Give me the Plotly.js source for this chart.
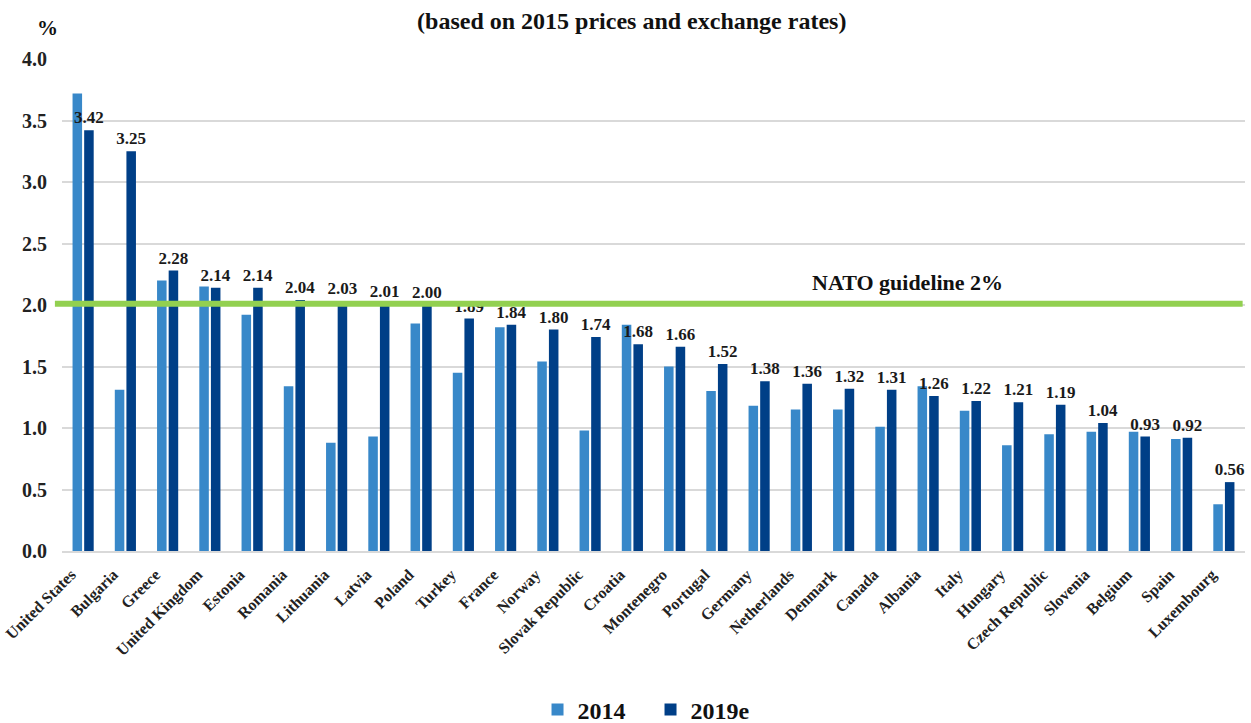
<!DOCTYPE html>
<html>
<head>
<meta charset="utf-8">
<script src="https://cdn.plot.ly/plotly-3.0.1.min.js"></script>
<style>html,body{margin:0;padding:0;background:#fff;}#chart{width:1251px;height:723px;}</style>
</head>
<body>
<div id="chart"></div>
<script>
const countries = ["United States","Bulgaria","Greece","United Kingdom","Estonia","Romania","Lithuania","Latvia","Poland","Turkey","France","Norway","Slovak Republic","Croatia","Montenegro","Portugal","Germany","Netherlands","Denmark","Canada","Albania","Italy","Hungary","Czech Republic","Slovenia","Belgium","Spain","Luxembourg"];
const values2014 = [3.72,1.31,2.20,2.15,1.92,1.34,0.88,0.93,1.85,1.45,1.82,1.54,0.98,1.84,1.50,1.30,1.18,1.15,1.15,1.01,1.34,1.14,0.86,0.95,0.97,0.97,0.91,0.38];
const values2019 = [3.42,3.25,2.28,2.14,2.14,2.04,2.03,2.01,2.00,1.89,1.84,1.80,1.74,1.68,1.66,1.52,1.38,1.36,1.32,1.31,1.26,1.22,1.21,1.19,1.04,0.93,0.92,0.56];
const seriesNames = ["2014","2019e"];
const guideline = 2.0;
const yTicks = [0,0.5,1,1.5,2,2.5,3,3.5,4];

const serif = "Liberation Serif, DejaVu Serif, serif";
const lightBlue = "#3888C9";
const darkBlue = "#003F87";

const traces = [
  {type:"bar", name:seriesNames[0], x:countries, y:values2014, marker:{color:lightBlue}, hoverinfo:"x+y"},
  {type:"bar", name:seriesNames[1], x:countries, y:values2019, marker:{color:darkBlue},
   text: values2019.map(v=>v.toFixed(2)), textposition:"outside", constraintext:"none", cliponaxis:false,
   textfont:{family:serif, size:17, color:"#1a1a1a", weight:"bold"}}
];

const layout = {
  width:1251, height:723,
  margin:{l:62, r:6, t:59, b:172},
  paper_bgcolor:"#fff", plot_bgcolor:"#fff",
  barmode:"group", bargap:0.45, bargroupgap:0.18,
  title:{text:"(based on 2015 prices and exchange rates)", x:0.505, xanchor:"center", y:0.972, yanchor:"middle",
         font:{family:serif, size:24, color:"#111", weight:"bold"}},
  xaxis:{type:"category", tickangle:-45, tickfont:{family:serif, size:16, color:"#222", weight:"bold"},
         showgrid:false, showline:true, linecolor:"#d9d9d9", linewidth:2, ticks:"", automargin:false,
         ticklabelshift:-12, ticklabelstandoff:6},
  yaxis:{range:[0,4.0], tickvals:yTicks, ticktext:yTicks.map(v=>v.toFixed(1)), showgrid:true, gridcolor:"#d9d9d9", gridwidth:2,
         zeroline:false, tickfont:{family:serif, size:20, color:"#222", weight:"bold"}, ticks:"", ticklen:0, automargin:false,
         ticklabelstandoff:14},
  legend:{orientation:"h", x:0.52, xanchor:"center", xref:"container", y:0.018, yref:"container", yanchor:"middle",
          font:{family:serif, size:24, color:"#111", weight:"bold"}, itemwidth:30, traceorder:"normal",
          entrywidth:68, entrywidthmode:"pixels"},
  shapes:[{type:"line", xref:"paper", yref:"y", x0:-0.006, x1:0.998, y0:guideline+0.01, y1:guideline+0.01,
           line:{color:"#92D050", width:6}}],
  annotations:[
    {text:"NATO guideline 2%", xref:"paper", yref:"y", x:0.797, y:2.18, showarrow:false,
     font:{family:serif, size:22, color:"#111", weight:"bold"}},
    {text:"%", xref:"paper", yref:"paper", x:-0.023, y:1.063, yanchor:"middle", showarrow:false,
     font:{family:serif, size:21, color:"#111", weight:"bold"}}
  ]
};

Plotly.newPlot("chart", traces, layout, {displayModeBar:false, staticPlot:true});
</script>
</body>
</html>
